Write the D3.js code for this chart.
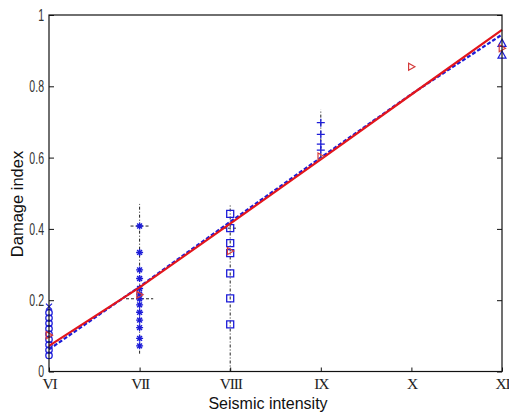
<!DOCTYPE html>
<html>
<head>
<meta charset="utf-8">
<script src="https://cdn.jsdelivr.net/npm/d3@7"></script>
<style>
  body { margin: 0; background: #fff; }
</style>
</head>
<body>
<div id="chart"></div>
<script>
// intensity categories on the x axis
const intensities = ['VI', 'VII', 'VIII', 'IX', 'X', 'XI']
const yTicks = [0, 0.2, 0.4, 0.6, 0.8, 1]

// fitted curves (one value per intensity)
const redFit = [0.072, 0.236, 0.415, 0.595, 0.777, 0.958]
const blueFit = [0.062, 0.238, 0.42, 0.60, 0.778, 0.945]

// observed damage indexes
const obsVI = [0.045, 0.06, 0.075, 0.09, 0.105, 0.12, 0.135, 0.15, 0.165]
const obsVIcross = [0.182]
const obsVII = [0.408, 0.334, 0.285, 0.261, 0.233, 0.217, 0.204, 0.187, 0.166, 0.144, 0.123, 0.093, 0.072]
const obsVIII = [0.442, 0.402, 0.36, 0.332, 0.275, 0.205, 0.132]
const obsIX = [0.698, 0.665, 0.638, 0.621]
const obsXI = [0.921, 0.888]
// red markers: [intensity, value]
const redMarks = [['VI', 0.102], ['VII', 0.215], ['VIII', 0.338], ['IX', 0.603], ['X', 0.855], ['XI', 0.907]]

// whiskers: [intensity, low, high]
const whiskers = [['VII', 0.05, 0.47], ['VIII', 0.0, 0.47], ['IX', 0.60, 0.735]]
// caps: [intensity, value, half width in category fraction]
const caps = [['VII', 0.204, 0.15], ['VII', 0.408, 0.1], ['VIII', 0.402, 0.08]]

const width = 509
const height = 413
const margin = {top: 15, right: 7, bottom: 41.5, left: 49}
const blue = '#1c1cd8'
const red = '#e3161c'

const svg = d3.select('#chart')
    .append('svg')
    .attr('width', width)
    .attr('height', height)
    .style('font-family', 'Liberation Sans, Arial, sans-serif')

const x = d3.scalePoint()
    .domain(intensities)
    .range([margin.left, width - margin.right])
const step = x.step()

const y = d3.scaleLinear()
    .domain([0, 1])
    .range([height - margin.bottom, margin.top])

// marker shapes
function marker(type, s) {
    switch (type) {
        case 'plus': return `M${-s},0H${s}M0,${-s}V${s}`
        case 'cross': return `M${-s},${-s}L${s},${s}M${-s},${s}L${s},${-s}`
        case 'star': {
            const d = s * 0.7
            return `M${-s},0H${s}M0,${-s}V${s}M${-d},${-d}L${d},${d}M${-d},${d}L${d},${-d}`
        }
        case 'square': return `M${-s},${-s}H${s}V${s}H${-s}Z`
        case 'circle': return `M${-s},0A${s},${s} 0 1,0 ${s},0A${s},${s} 0 1,0 ${-s},0`
        case 'triUp': return `M0,${-s}L${s},${s * 0.8}H${-s}Z`
        case 'triRight': return `M${s},0L${-s * 0.8},${-s}V${s}Z`
    }
}

// whiskers and caps (black dash-dot)
svg.append('g')
    .selectAll('line')
    .data(whiskers)
    .enter()
    .append('line')
    .attr('x1', d => x(d[0]))
    .attr('x2', d => x(d[0]))
    .attr('y1', d => y(d[1]))
    .attr('y2', d => y(d[2]))
    .attr('stroke', '#222')
    .attr('stroke-width', 1)
    .attr('stroke-dasharray', '3,2,1,2')

svg.append('g')
    .selectAll('line')
    .data(caps)
    .enter()
    .append('line')
    .attr('x1', d => x(d[0]) - d[2] * step)
    .attr('x2', d => x(d[0]) + d[2] * step)
    .attr('y1', d => y(d[1]))
    .attr('y2', d => y(d[1]))
    .attr('stroke', '#222')
    .attr('stroke-width', 1)
    .attr('stroke-dasharray', '3,2')

// scatter groups
function drawGroup(cat, values, type, size, color, sw) {
    svg.append('g')
        .selectAll('path')
        .data(values)
        .enter()
        .append('path')
        .attr('transform', d => `translate(${x(cat)},${y(d)})`)
        .attr('d', marker(type, size))
        .attr('fill', 'none')
        .attr('stroke', color)
        .attr('stroke-width', sw)
}

drawGroup('VI', obsVI, 'circle', 3.2, blue, 1.3)
drawGroup('VI', obsVIcross, 'cross', 3, blue, 1.2)
drawGroup('VII', obsVII, 'star', 3.5, blue, 1.4)
drawGroup('VIII', obsVIII, 'square', 3.5, blue, 1.3)
drawGroup('IX', obsIX, 'plus', 4, blue, 1.3)
drawGroup('XI', obsXI, 'triUp', 4, blue, 1.2)

// fitted lines (blue dashed under the red one)
const line = d3.line()
    .x((d, i) => x(intensities[i]))
    .y(d => y(d))

svg.append('path')
    .datum(blueFit)
    .attr('d', line)
    .attr('fill', 'none')
    .attr('stroke', blue)
    .attr('stroke-width', 2.2)
    .attr('stroke-dasharray', '4,2')

svg.append('path')
    .datum(redFit)
    .attr('d', line)
    .attr('fill', 'none')
    .attr('stroke', red)
    .attr('stroke-width', 2.2)

svg.append('g')
    .selectAll('path')
    .data(redMarks)
    .enter()
    .append('path')
    .attr('transform', d => `translate(${x(d[0])},${y(d[1])})`)
    .attr('d', marker('triRight', 3.5))
    .attr('fill', 'none')
    .attr('stroke', '#d43a3a')
    .attr('stroke-width', 1.2)

// frame
svg.append('rect')
    .attr('x', margin.left)
    .attr('y', margin.top)
    .attr('width', width - margin.left - margin.right)
    .attr('height', height - margin.top - margin.bottom)
    .attr('fill', 'none')
    .attr('stroke', '#111')
    .attr('stroke-width', 1.2)

// axes with inward ticks
const yAxis = d3.axisLeft(y)
    .tickValues(yTicks)
    .tickFormat(d3.format(''))
    .tickSize(-5)
    .tickPadding(5)

const gy = svg.append('g')
    .attr('transform', `translate(${margin.left},0)`)
    .call(yAxis)
gy.select('.domain').remove()
gy.selectAll('.tick line').attr('stroke', '#111')
gy.selectAll('.tick text')
    .attr('font-size', 17)
    .attr('font-family', 'Liberation Sans, Arial, sans-serif')
    .attr('fill', '#333')
    .attr('x', -5 / 0.62)
    .attr('transform', 'scale(0.62,1)')

svg.append('g')
    .attr('transform', `translate(${width - margin.right},0)`)
    .call(d3.axisRight(y).tickValues(yTicks).tickSize(-5).tickFormat(''))
    .call(g => g.select('.domain').remove())
    .selectAll('.tick line').attr('stroke', '#111')

const xAxis = d3.axisBottom(x)
    .tickSize(-4)
    .tickPadding(6)

const gx = svg.append('g')
    .attr('transform', `translate(0,${height - margin.bottom})`)
    .call(xAxis)
gx.select('.domain').remove()
gx.selectAll('.tick line').attr('stroke', '#111')
gx.selectAll('.tick text')
    .attr('font-size', 15.5)
    .attr('font-family', 'Liberation Serif, Times New Roman, serif')
    .attr('letter-spacing', -1.2)
    .attr('fill', '#222')

// axis titles
svg.append('text')
    .attr('x', 268)
    .attr('y', 409)
    .attr('text-anchor', 'middle')
    .attr('font-size', 16)
    .attr('fill', '#111')
    .text('Seismic intensity')

svg.append('text')
    .attr('transform', 'translate(23,204) rotate(-90)')
    .attr('text-anchor', 'middle')
    .attr('font-size', 16.5)
    .attr('fill', '#111')
    .text('Damage index')
</script>
</body>
</html>
